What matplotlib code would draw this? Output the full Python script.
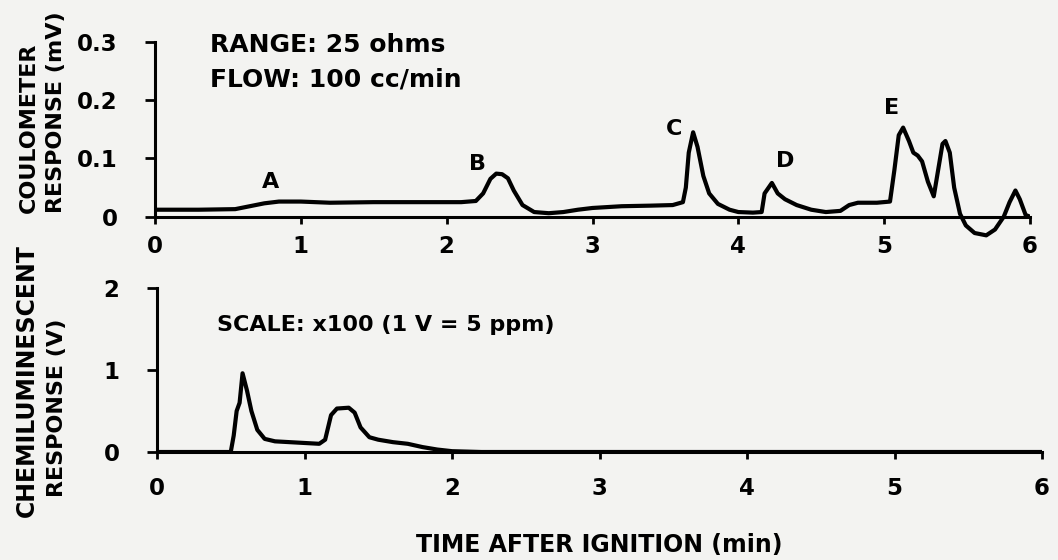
import matplotlib
matplotlib.use('Agg')
import matplotlib.pyplot as plt

# coulometer trace (min, mV)
coul_t = [0.0, 0.3, 0.55, 0.65, 0.75, 0.85, 1.0, 1.2, 1.5, 1.8, 2.1, 2.2, 2.25, 2.3,
          2.34, 2.38, 2.42, 2.46, 2.52, 2.6, 2.7, 2.8, 2.9, 3.0, 3.2, 3.4, 3.55, 3.62,
          3.64, 3.66, 3.69, 3.72, 3.76, 3.8, 3.86, 3.94, 4.0, 4.1, 4.16, 4.18, 4.23,
          4.27, 4.32, 4.4, 4.5, 4.6, 4.7, 4.76, 4.82, 4.95, 5.04, 5.07, 5.1, 5.13,
          5.17, 5.2, 5.23, 5.26, 5.3, 5.34, 5.37, 5.4, 5.42, 5.45, 5.48, 5.52, 5.56,
          5.62, 5.7, 5.76, 5.82, 5.86, 5.9, 5.93, 5.97, 6.0]
coul_mv = [0.012, 0.012, 0.013, 0.018, 0.023, 0.026, 0.026, 0.024, 0.025, 0.025, 0.025,
           0.027, 0.04, 0.065, 0.074, 0.073, 0.066, 0.045, 0.02, 0.008, 0.006, 0.008,
           0.012, 0.015, 0.018, 0.019, 0.02, 0.025, 0.05, 0.11, 0.145, 0.12, 0.07, 0.04,
           0.022, 0.012, 0.008, 0.007, 0.008, 0.04, 0.058, 0.04, 0.03, 0.02, 0.012,
           0.008, 0.01, 0.02, 0.024, 0.024, 0.026, 0.08, 0.14, 0.153, 0.13, 0.11, 0.105,
           0.095, 0.06, 0.035, 0.08, 0.125, 0.13, 0.11, 0.05, 0.005, -0.015, -0.028,
           -0.032, -0.022, 0.0, 0.025, 0.045, 0.03, 0.003, 0.0]

# chemiluminescent trace (min, V)
chem_t = [0.0, 0.5, 0.52, 0.54, 0.56, 0.58, 0.61, 0.64, 0.68, 0.73, 0.8, 0.9, 1.0, 1.1,
          1.14, 1.18, 1.22, 1.3, 1.34, 1.38, 1.44, 1.5, 1.6, 1.7, 1.8, 1.9, 2.0, 2.2, 6.0]
chem_v = [0.0, 0.0, 0.2, 0.5, 0.6, 0.96, 0.75, 0.5, 0.27, 0.16, 0.13, 0.12, 0.11, 0.1,
          0.15, 0.45, 0.53, 0.54, 0.48, 0.3, 0.18, 0.15, 0.12, 0.1, 0.06, 0.03, 0.01, 0.0, 0.0]

peak_names = ['A', 'B', 'C', 'D', 'E']
peak_x = [0.79, 2.21, 3.56, 4.32, 5.05]
peak_y = [0.059, 0.09, 0.15, 0.095, 0.186]

time_ticks = [0, 1, 2, 3, 4, 5, 6]
coul_ticks = [0, 0.1, 0.2, 0.3]
coul_labels = ['0', '0.1', '0.2', '0.3']
chem_ticks = [0, 1, 2]

bg = '#f3f3f1'
plt.rcParams['font.family'] = ['DejaVu Sans']
plt.rcParams['font.weight'] = 'bold'
fs = 16

fig = plt.figure(figsize=(10.58, 5.6), dpi=100, facecolor=bg)
W, H = 1058, 560


def style(ax, ymin, ymax):
    ax.set_facecolor('none')
    for s in ['top', 'right']:
        ax.spines[s].set_visible(False)
    ax.spines['bottom'].set_position(('data', 0))
    ax.spines['bottom'].set_bounds(0, 6)
    ax.spines['left'].set_bounds(ymin, ymax)
    for s in ['bottom', 'left']:
        ax.spines[s].set_linewidth(2.2)
    ax.set_xlim(0, 6)
    ax.set_xticks(time_ticks)
    ax.tick_params(axis='x', direction='out', length=5, width=2, labelsize=fs + 0.5)
    ax.tick_params(axis='y', direction='out', length=7, width=2, labelsize=fs + 0.5, pad=20)


# top panel: 0 at y=217, 0.3 at y=42, x 155..1030
ax1 = fig.add_axes([155 / W, 1 - 240 / H, (1030 - 155) / W, (240 - 42) / H])
ax1.set_ylim(-0.04, 0.3)
style(ax1, 0, 0.3)
ax1.tick_params(axis='x', pad=8)
ax1.set_yticks(coul_ticks)
ax1.set_yticklabels(coul_labels)
ax1.plot(coul_t, coul_mv, color='black', lw=3, solid_joinstyle='round')
for n, x, y in zip(peak_names, peak_x, peak_y):
    ax1.text(x, y, n, fontsize=fs, ha='center', va='center')
ax1.text(0.38, 0.295, 'RANGE: 25 ohms', fontsize=fs + 2, va='center')
ax1.text(0.38, 0.235, 'FLOW: 100 cc/min', fontsize=fs + 2, va='center')

# bottom panel: 0 at y=452, 2 at y=288, x 157..1042
ax2 = fig.add_axes([157 / W, 1 - 452 / H, (1042 - 157) / W, (452 - 288) / H])
ax2.set_ylim(0, 2)
style(ax2, 0, 2)
ax2.tick_params(axis='x', pad=13)
ax2.set_yticks(chem_ticks)
ax2.plot(chem_t, chem_v, color='black', lw=3, solid_joinstyle='round')
ax2.text(0.41, 1.55, 'SCALE: x100 (1 V = 5 ppm)', fontsize=fs, va='center')

fig.text(29 / W, 1 - 128 / H, 'COULOMETER', rotation=90, fontsize=fs, ha='center', va='center')
fig.text(56 / W, 1 - 112 / H, 'RESPONSE (mV)', rotation=90, fontsize=fs, ha='center', va='center')
fig.text(27 / W, 1 - 381 / H, 'CHEMILUMINESCENT', rotation=90, fontsize=fs + 1, ha='center', va='center')
fig.text(57 / W, 1 - 408 / H, 'RESPONSE (V)', rotation=90, fontsize=fs, ha='center', va='center')
fig.text(599 / W, 1 - 545 / H, 'TIME AFTER IGNITION (min)', fontsize=fs + 1, ha='center', va='center')

fig.savefig('out.png', dpi=100, facecolor=bg)
